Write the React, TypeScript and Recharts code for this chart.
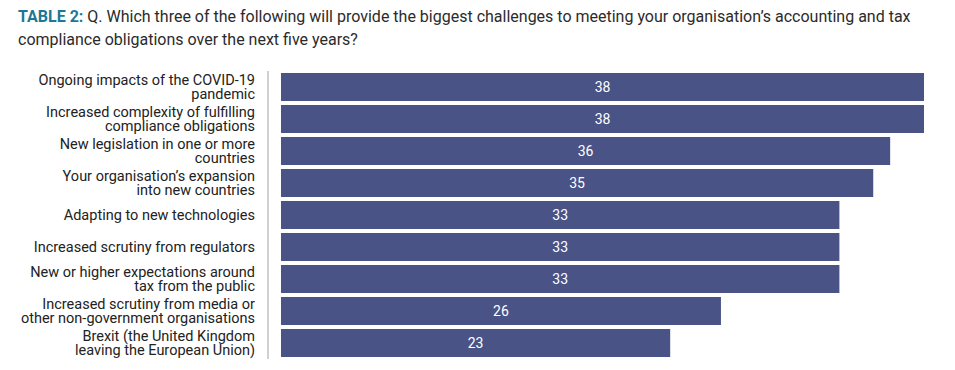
import React from 'react';
import { BarChart, Bar, XAxis, YAxis, LabelList } from 'recharts';

const categories = [
  'Ongoing impacts of the COVID-19\npandemic',
  'Increased complexity of fulfilling\ncompliance obligations',
  'New legislation in one or more\ncountries',
  'Your organisation’s expansion\ninto new countries',
  'Adapting to new technologies',
  'Increased scrutiny from regulators',
  'New or higher expectations around\ntax from the public',
  'Increased scrutiny from media or\nother non-government organisations',
  'Brexit (the United Kingdom\nleaving the European Union)',
];
const values = [38, 38, 36, 35, 33, 33, 33, 26, 23];

const data = categories.map((name, i) => ({ name, value: values[i] }));

const FONT = 'Roboto, "Noto Sans", sans-serif';

const CategoryTick = (props: any) => {
  const { x, y, payload } = props;
  const lines = String(payload.value).split('\n');
  const lh = 14;
  const start = -((lines.length - 1) * lh) / 2;
  return (
    <text x={x} y={y} textAnchor="end" fill="#222" fontSize={14.5} fontFamily={FONT}>
      {lines.map((l, i) => (
        <tspan key={i} x={x} dy={i === 0 ? start + 5 : lh}>
          {l}
        </tspan>
      ))}
    </text>
  );
};

const App: React.FC = () => {
  return (
    <div style={{ position: 'absolute', left: 0, top: 0, width: 955, height: 370, background: '#fff', fontFamily: FONT }}>
      <div style={{ position: 'absolute', left: 18, top: 5, fontSize: 16, lineHeight: '23px', color: '#2b2b2b', width: 920 }}>
        <span style={{ color: '#1b7896', fontWeight: 700 }}>TABLE 2:</span> Q. Which three of the following will provide the biggest challenges to meeting your organisation’s accounting and tax compliance obligations over the next five years?
      </div>
      <div style={{ position: 'absolute', left: 0, top: 0 }}>
        <BarChart
          width={955}
          height={370}
          data={data}
          layout="vertical"
          margin={{ top: 71, right: 31, bottom: 11, left: 0 }}
        >
          <XAxis type="number" domain={[0, 38]} hide padding={{ left: 13, right: 0 }} />
          <YAxis
            type="category"
            dataKey="name"
            width={268}
            axisLine={{ stroke: '#a0a0a0' }}
            tickLine={false}
            tickMargin={7}
            tick={<CategoryTick />}
            interval={0}
          />
          <Bar dataKey="value" fill="#495385" barSize={28} isAnimationActive={false}>
            <LabelList dataKey="value" position="center" fill="#fff" fontSize={14} fontFamily={FONT} />
          </Bar>
        </BarChart>
      </div>
    </div>
  );
};

export default App;
